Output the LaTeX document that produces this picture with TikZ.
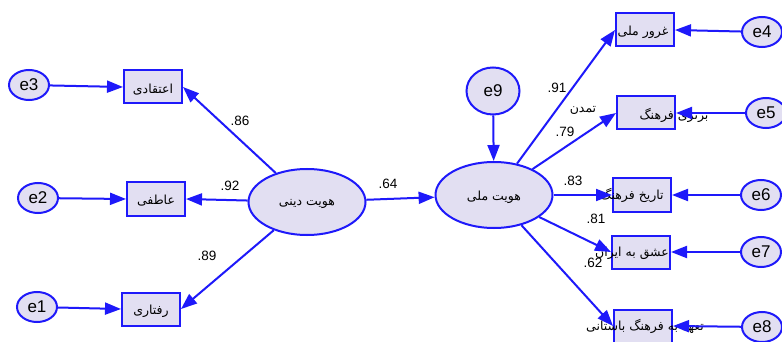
\documentclass[tikz,border=0pt]{standalone}
\usepackage{fontspec}
\setmainfont{Liberation Sans}
\newfontfamily\fa[Script=Arabic]{DejaVu Sans}
\TeXXeTstate=1
\usetikzlibrary{arrows.meta,shapes.geometric}
\definecolor{amblue}{RGB}{30,25,250}
\definecolor{amfill}{RGB}{226,223,242}
\tikzset{
 lat/.style={ellipse, draw=amblue, line width=2pt, fill=amfill, minimum width=117pt, minimum height=66pt, inner sep=0pt},
 err/.style={ellipse, draw=amblue, line width=2pt, fill=amfill, minimum width=40pt, minimum height=30pt, inner sep=0pt, font=\fontsize{17}{17}\selectfont},
 obs/.style={rectangle, draw=amblue, line width=2pt, fill=amfill, minimum width=58pt, minimum height=33pt, inner sep=0pt},
 fatxt/.style={font=\fa\fontsize{12.5}{12.5}\selectfont, inner sep=0pt},
 coef/.style={font=\fontsize{13.5}{13.5}\selectfont, inner sep=0pt},
 arr/.style={draw=amblue, line width=2pt, -{Triangle[length=16pt,width=12pt]}},
}
\begin{document}
\begin{tikzpicture}[x=1pt,y=-1pt]
\fill[white] (0,0) rectangle (782,342);
\useasboundingbox (0,0) rectangle (782,342);
% latent
\node[lat] (rel) at (307,202) {};
\node[fatxt] (relt) at (307,204) {\beginR هویت دینی\endR};
\node[lat] (nat) at (494,195) {};
\node[fatxt] (natt) at (494,197) {\beginR هویت ملی\endR};
\node[err, minimum width=53pt, minimum height=47pt] (e9) at (493,91) {e9};
% left observed
\node[obs] (b1) at (153,87) {};
\node[obs] (b2) at (156,199) {};
\node[obs] (b3) at (151,309) {};
\node[fatxt] (t1) at (153,90) {\beginR اعتقادی\endR};
\node[fatxt] (t2) at (156,201) {\beginR عاطفی\endR};
\node[fatxt] (t3) at (151,311) {\beginR رفتاری\endR};
\node[err] (e3) at (29,85) {e3};
\node[err] (e2) at (38,198) {e2};
\node[err] (e1) at (37,307) {e1};
% right observed
\node[obs] (r1) at (645,30) {};
\node[obs] (r2) at (646,113) {};
\node[obs] (r3) at (642,195) {};
\node[obs] (r4) at (641,252) {};
\node[obs] (r5) at (643,326) {};
\node[fatxt] (u1) at (643,32) {\beginR غرور ملی\endR};
\node[fatxt] (u2) at (674,115) {\beginR برتری فرهنگ\endR};
\node[fatxt] (u2b) at (583,110) {\beginR تمدن\endR};
\node[fatxt] (u3) at (632,195) {\beginR تاریخ فرهنگ\endR};
\node[fatxt] (u4) at (632,253) {\beginR عشق به ایران\endR};
\node[fatxt] (u5) at (645,326) {\beginR تعهد به فرهنگ باستانی\endR};
\node[err] (e4) at (762,32) {e4};
\node[err] (e5) at (766,113) {e5};
\node[err] (e6) at (761,195) {e6};
\node[err] (e7) at (761,252) {e7};
\node[err] (e8) at (762,327) {e8};
% arrows
\draw[arr] (e3) -- (b1.west);
\draw[arr] (e2) -- (b2.west);
\draw[arr] (e1) -- (b3.west);
\draw[arr] (rel) -- (b1.east);
\draw[arr] (rel) -- (b2.east);
\draw[arr] (rel) -- (b3.east);
\draw[arr] (rel) -- (nat);
\draw[arr] (e9) -- (nat);
\draw[arr] (nat) -- (r1.west);
\draw[arr] (nat) -- (r2.west);
\draw[arr] (nat) -- (r3.west);
\draw[arr] (nat) -- (r4.west);
\draw[arr] (nat) -- (r5.west);
\draw[arr] (e4) -- (r1.east);
\draw[arr] (e5) -- (r2.east);
\draw[arr] (e6) -- (r3.east);
\draw[arr] (e7) -- (r4.east);
\draw[arr] (e8) -- (r5.east);
% coefficients
\node[coef] (c86) at (240,121) {.86};
\node[coef] (c92) at (230,186) {.92};
\node[coef] (c89) at (207,256) {.89};
\node[coef] (c64) at (388,184) {.64};
\node[coef] (c91) at (557,88) {.91};
\node[coef] (c79) at (565,132) {.79};
\node[coef] (c83) at (573,181) {.83};
\node[coef] (c81) at (596,219) {.81};
\node[coef] (c62) at (593,263) {.62};
\end{tikzpicture}
\end{document}
